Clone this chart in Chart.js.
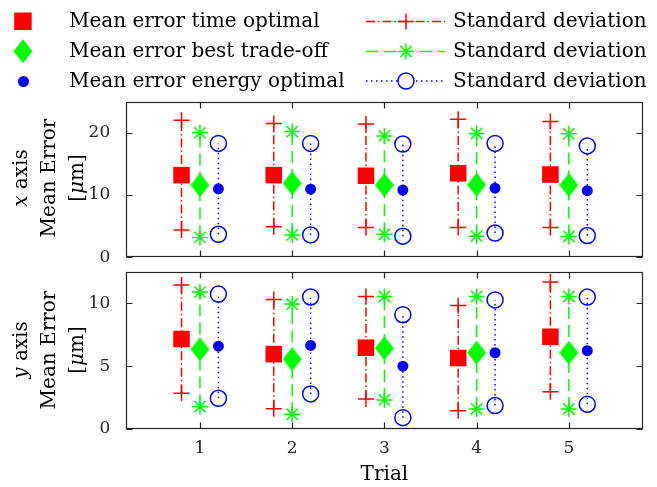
<!DOCTYPE html>
<html>
<head>
<meta charset="utf-8">
<script src="https://cdn.jsdelivr.net/npm/chart.js@4.4.1/dist/chart.umd.min.js"></script>
<style>
  html, body { margin: 0; padding: 0; background: #fff; }
  #wrap { position: relative; width: 657px; height: 487px; overflow: hidden; font-family: 'DejaVu Serif', serif; color: #000; }
  canvas { position: absolute; left: 0; top: 0; }
  svg { position: absolute; left: 0; top: 0; }
  .lg { position: absolute; font-size: 20px; line-height: 30px; white-space: nowrap; }
  .ylab { position: absolute; width: 200px; height: 84px; font-size: 20px; line-height: 28px; text-align: center; white-space: nowrap; transform: rotate(-90deg); }
</style>
</head>
<body>
<div id="wrap">
  <canvas id="chartX" width="657" height="487"></canvas>
  <canvas id="chartY" width="657" height="487"></canvas>

  <!-- legend symbols -->
  <svg width="657" height="95">
    <rect x="14.2" y="12.5" width="17.5" height="17.5" fill="#ff0000"/>
    <polygon points="23,39.3 32.5,51.3 23,63.3 13.5,51.3" fill="#00ff00"/>
    <circle cx="23.5" cy="81.5" r="5.5" fill="#0000ff"/>
    <line x1="366" y1="21.5" x2="445" y2="21.5" stroke="#ff0000" stroke-width="1.5" stroke-dasharray="9 3 1.5 3"/>
    <path d="M398 21.5H414M406 13.5V29.5" stroke="#ff0000" stroke-width="1.5"/>
    <line x1="366" y1="51.5" x2="445" y2="51.5" stroke="#00ff00" stroke-width="1.5" stroke-dasharray="12 6"/>
    <path d="M398 51.5H414M406 43.5V59.5M400.3 45.8L411.7 57.2M411.7 45.8L400.3 57.2" stroke="#00ff00" stroke-width="1.5"/>
    <line x1="366" y1="81" x2="445" y2="81" stroke="#0000ff" stroke-width="1.5" stroke-dasharray="1.5 3.5"/>
    <circle cx="406" cy="81" r="8" fill="#fff" stroke="#0000ff" stroke-width="1.5"/>
  </svg>

  <div class="lg" style="left:69px;top:5.4px">Mean error time optimal</div>
  <div class="lg" style="left:69px;top:35.4px">Mean error best trade-off</div>
  <div class="lg" style="left:69px;top:65.4px">Mean error energy optimal</div>
  <div class="lg" style="left:453px;top:5.4px">Standard deviation</div>
  <div class="lg" style="left:453px;top:35.4px">Standard deviation</div>
  <div class="lg" style="left:453px;top:65.4px">Standard deviation</div>

  <div class="ylab" style="left:-52px;top:136px"><i>x</i> axis<br>Mean Error<br>[<i>μ</i>m]</div>
  <div class="ylab" style="left:-52px;top:308px"><i>y</i> axis<br>Mean Error<br>[<i>μ</i>m]</div>
</div>

<script>
// trials on the shared horizontal axis
const trials = [1, 2, 3, 4, 5];

// x axis error [µm]: mean and standard deviation per trial
const timeMeanX   = [13.2, 13.2, 13.1, 13.5, 13.3];
const timeStdX    = [8.8, 8.3, 8.3, 8.7, 8.5];
const tradeMeanX  = [11.6, 11.9, 11.6, 11.65, 11.6];
const tradeStdX   = [8.4, 8.3, 7.9, 8.25, 8.25];
const energyMeanX = [11.0, 10.95, 10.8, 11.1, 10.7];
const energyStdX  = [7.3, 7.35, 7.4, 7.2, 7.2];

// y axis error [µm]
const timeMeanY   = [7.15, 5.95, 6.46, 5.64, 7.33];
const timeStdY    = [4.3, 4.35, 4.07, 4.18, 4.36];
const tradeMeanY  = [6.33, 5.55, 6.42, 6.06, 6.06];
const tradeStdY   = [4.55, 4.38, 4.11, 4.47, 4.47];
const energyMeanY = [6.58, 6.64, 4.99, 6.06, 6.22];
const energyStdY  = [4.14, 3.85, 4.09, 4.2, 4.26];

const shift = 0.2;   // side-by-side offset of the three methods
const red = '#ff0000', green = '#00ff00', blue = '#0000ff', axisCol = '#262626';

Chart.defaults.font.family = "'DejaVu Serif', serif";
Chart.defaults.color = axisCol;

// tall diamond marker like the MATLAB 'd'
const diamond = document.createElement('canvas');
diamond.width = 19; diamond.height = 24;
(() => {
  const c = diamond.getContext('2d');
  c.fillStyle = green;
  c.beginPath(); c.moveTo(9.5, 0); c.lineTo(19, 12); c.lineTo(9.5, 24); c.lineTo(0, 12); c.closePath(); c.fill();
})();

const meanPts = (mean, dx) => trials.map((t, i) => ({ x: t + dx, y: mean[i] }));
const stdPts = (mean, sd, dx) => {
  const pts = [];
  trials.forEach((t, i) => {
    pts.push({ x: t + dx, y: mean[i] - sd[i] }, { x: t + dx, y: mean[i] + sd[i] }, { x: t + dx, y: null });
  });
  return pts;
};

// box + inward ticks on all four sides
const framePlugin = {
  id: 'frame',
  beforeDatasetsDraw(chart) {
    const { ctx, chartArea: a, scales: { x, y } } = chart;
    const L = Math.round(a.left) + 0.5, R = Math.round(a.right) - 0.5;
    const T = Math.round(a.top) + 0.5, B = Math.round(a.bottom) - 0.5;
    ctx.save();
    ctx.strokeStyle = axisCol; ctx.lineWidth = 1.2;
    ctx.strokeRect(L, T, R - L, B - T);
    ctx.beginPath();
    x.ticks.forEach(t => {
      const p = Math.round(x.getPixelForValue(t.value)) + 0.5;
      ctx.moveTo(p, B); ctx.lineTo(p, B - 6); ctx.moveTo(p, T); ctx.lineTo(p, T + 6);
    });
    y.ticks.forEach(t => {
      const p = Math.round(y.getPixelForValue(t.value)) + 0.5;
      ctx.moveTo(L, p); ctx.lineTo(L + 6, p); ctx.moveTo(R, p); ctx.lineTo(R - 6, p);
    });
    ctx.stroke(); ctx.restore();
  }
};

function makeChart(id, d, opt) {
  return new Chart(document.getElementById(id), {
    type: 'line',
    data: {
      datasets: [
        { data: meanPts(d.tm, -shift), showLine: false, pointStyle: 'rect', pointRadius: 11.7, backgroundColor: red, borderWidth: 0, pointBorderWidth: 0 },
        { data: meanPts(d.gm, 0), showLine: false, pointStyle: diamond, pointRadius: 12, backgroundColor: green },
        { data: meanPts(d.em, shift), showLine: false, pointStyle: 'circle', pointRadius: 5.5, backgroundColor: blue, pointBorderWidth: 0 },
        { data: stdPts(d.tm, d.ts, -shift), borderColor: red, borderWidth: 1.5, borderDash: [9, 3, 1.5, 3], pointStyle: 'cross', pointRadius: 8, pointBorderWidth: 1.5, spanGaps: false },
        { data: stdPts(d.gm, d.gs, 0), borderColor: green, borderWidth: 1.5, borderDash: [12, 6], pointStyle: 'star', pointRadius: 8, pointBorderWidth: 1.5, spanGaps: false },
        { data: stdPts(d.em, d.es, shift), borderColor: blue, borderWidth: 1.5, borderDash: [1.5, 3.5], pointStyle: 'circle', pointRadius: 8, pointBorderWidth: 1.5, pointBackgroundColor: 'rgba(0,0,0,0)', spanGaps: false }
      ]
    },
    options: {
      responsive: false, animation: false, clip: false,
      layout: { padding: { top: opt.top, right: 14.4, left: 0, bottom: 0 } },
      plugins: { legend: { display: false }, tooltip: { enabled: false } },
      elements: { line: { tension: 0 } },
      scales: {
        x: {
          type: 'linear', min: 0.2, max: 5.8,
          grid: { display: false }, border: { display: false },
          ticks: { stepSize: 1, includeBounds: false, display: opt.xLabels, padding: 1, font: { size: 17 }, color: axisCol },
          title: { display: opt.xLabels, text: 'Trial', font: { size: 20 }, color: '#000', padding: { top: 0, bottom: 0 } },
          afterFit: s => { s.height = opt.xHeight; }
        },
        y: {
          min: 0, max: opt.yMax,
          grid: { display: false }, border: { display: false },
          ticks: { stepSize: opt.yStep, includeBounds: false, padding: 8, font: { size: 17 }, color: axisCol },
          afterFit: s => { s.width = 126.2; }
        }
      }
    },
    plugins: [framePlugin]
  });
}

makeChart('chartX',
  { tm: timeMeanX, ts: timeStdX, gm: tradeMeanX, gs: tradeStdX, em: energyMeanX, es: energyStdX },
  { top: 101.7, xHeight: 487 - 257.3, xLabels: false, yMax: 25, yStep: 10 });

makeChart('chartY',
  { tm: timeMeanY, ts: timeStdY, gm: tradeMeanY, gs: tradeStdY, em: energyMeanY, es: energyStdY },
  { top: 271.7, xHeight: 58, xLabels: true, yMax: 12.5, yStep: 5 });
</script>
</body>
</html>
